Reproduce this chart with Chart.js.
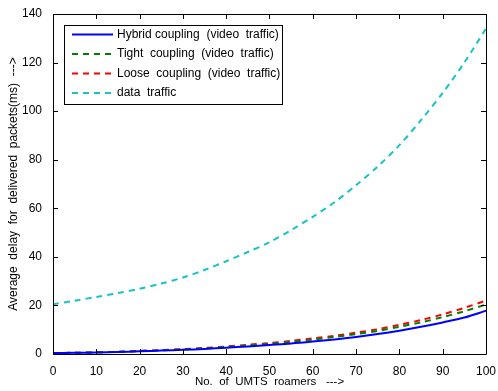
<!DOCTYPE html>
<html>
<head>
<meta charset="utf-8">
<script src="https://cdn.jsdelivr.net/npm/chart.js@4"></script>
<style>
  html, body { margin: 0; padding: 0; background: #fff; }
  #wrap { width: 498px; height: 391px; }
</style>
</head>
<body>
<div id="wrap"><canvas id="delayChart" width="498" height="391"></canvas></div>
<script>
/* data */
const roamers = [0, 5, 10, 15, 20, 25, 30, 35, 40, 45, 50, 55, 60, 65, 70, 75, 80, 85, 90, 95, 100]
const hybridVideo = [0.4, 0.5, 0.6, 0.8, 1.1, 1.4, 1.7, 2.1, 2.6, 3.1, 3.7, 4.3, 5.1, 6.0, 7.0, 8.2, 9.6, 11.2, 13.0, 15.0, 17.8]
const tightVideo = [0.4, 0.5, 0.7, 0.9, 1.2, 1.5, 1.9, 2.3, 2.9, 3.5, 4.2, 5.0, 5.9, 7.0, 8.2, 9.5, 11.2, 13.0, 15.2, 17.6, 20.4]
const looseVideo = [0.4, 0.5, 0.7, 0.9, 1.3, 1.6, 2.0, 2.5, 3.1, 3.8, 4.5, 5.4, 6.4, 7.5, 8.8, 10.2, 12.0, 14.0, 16.3, 19.0, 22.0]
const dataTraffic = [20.5, 21.9, 23.5, 25.1, 26.9, 29.0, 31.5, 34.6, 38.2, 42.0, 46.0, 51.0, 56.5, 62.5, 69.5, 77.2, 86.0, 96.3, 107.5, 120.0, 134.0]
const seriesNames = ['Hybrid coupling  (video  traffic)', 'Tight  coupling  (video  traffic)', 'Loose  coupling  (video  traffic)', 'data  traffic']

const colors = {
    blue: '#0000ff',
    green: '#008000',
    red: '#ff0000',
    cyan: '#19c3c3'
}

const FONT = 'Arial, "Liberation Sans", sans-serif'

function pts(ys) {
    return roamers.map(function(x, i) { return { x: x, y: ys[i] } })
}

/* MATLAB-like frame with inward ticks on all sides */
const framePlugin = {
    id: 'frame',
    afterDraw: function(chart) {
        const ctx = chart.ctx
        const a = chart.chartArea
        const xs = chart.scales.x
        const ys = chart.scales.y
        const len = 5
        ctx.save()
        ctx.strokeStyle = '#000'
        ctx.lineWidth = 1
        ctx.beginPath()
        xs.ticks.forEach(function(t) {
            const px = Math.round(xs.getPixelForValue(t.value)) + 0.5
            ctx.moveTo(px, a.bottom); ctx.lineTo(px, a.bottom - len)
            ctx.moveTo(px, a.top); ctx.lineTo(px, a.top + len)
        })
        ys.ticks.forEach(function(t) {
            const py = Math.round(ys.getPixelForValue(t.value)) + 0.5
            ctx.moveTo(a.left, py); ctx.lineTo(a.left + len, py)
            ctx.moveTo(a.right, py); ctx.lineTo(a.right - len, py)
        })
        ctx.stroke()
        ctx.beginPath()
        ctx.rect(Math.round(a.left) + 0.5, Math.round(a.top) + 0.5, Math.round(a.right - a.left), Math.round(a.bottom - a.top))
        ctx.stroke()
        ctx.restore()
    }
}

/* legend box inside the axes, top left */
const boxLegend = {
    id: 'boxLegend',
    afterDraw: function(chart) {
        const ctx = chart.ctx
        const a = chart.chartArea
        const left = a.left + 11, top = a.top + 11
        const w = 218, h = 79, rowH = 19.5
        ctx.save()
        ctx.fillStyle = '#fff'
        ctx.fillRect(left, top, w, h)
        ctx.strokeStyle = '#000'
        ctx.lineWidth = 1
        ctx.strokeRect(left + 0.5, top + 0.5, w, h)
        ctx.font = '12px ' + FONT
        ctx.textBaseline = 'middle'
        chart.data.datasets.forEach(function(ds, i) {
            const y = top + 9.5 + i * rowH
            ctx.strokeStyle = ds.borderColor
            ctx.lineWidth = 2
            ctx.setLineDash(ds.borderDash || [])
            ctx.beginPath()
            ctx.moveTo(left + 8, y); ctx.lineTo(left + 49, y)
            ctx.stroke()
            ctx.setLineDash([])
            ctx.fillStyle = '#000'
            ctx.fillText(ds.label, left + 53, y)
        })
        ctx.restore()
    }
}

const ctx = document.getElementById('delayChart').getContext('2d')
const myChart = new Chart(ctx, {
    type: 'line',
    data: {
        datasets: [
        {
            label: seriesNames[0],
            data: pts(hybridVideo),
            borderColor: colors.blue,
            borderWidth: 2
        },
        {
            label: seriesNames[1],
            data: pts(tightVideo),
            borderColor: colors.green,
            borderWidth: 2,
            borderDash: [6, 5]
        },
        {
            label: seriesNames[2],
            data: pts(looseVideo),
            borderColor: colors.red,
            borderWidth: 2,
            borderDash: [6, 5]
        },
        {
            label: seriesNames[3],
            data: pts(dataTraffic),
            borderColor: colors.cyan,
            borderWidth: 2,
            borderDash: [6, 5]
        }]
    },
    options: {
        responsive: false,
        animation: false,
        events: [],
        layout: { padding: { top: 14, right: 11, left: 0, bottom: 0 } },
        elements: { point: { radius: 0 }, line: { tension: 0.3 } },
        plugins: { legend: { display: false }, tooltip: { enabled: false } },
        scales: {
            x: {
                type: 'linear',
                min: 0, max: 100,
                grid: { display: false },
                border: { display: false },
                ticks: { stepSize: 10, color: '#000', padding: 2, maxRotation: 0, font: { family: FONT, size: 12 } },
                title: { display: true, text: 'No.  of  UMTS  roamers   --->', color: '#000', padding: { top: 1, bottom: 2 }, font: { family: FONT, size: 11.5 } },
                afterFit: function(s) { s.height = 37 }
            },
            y: {
                min: 0, max: 140,
                grid: { display: false },
                border: { display: false },
                ticks: { stepSize: 20, color: '#000', padding: 3, font: { family: FONT, size: 12 } },
                title: { display: true, text: 'Average  delay  for  delivered  packets(ms)  --->', color: '#000', padding: { top: 6, bottom: 2 }, font: { family: FONT, size: 12 } },
                afterFit: function(s) { s.width = 53 }
            }
        }
    },
    plugins: [framePlugin, boxLegend]
})
</script>
</body>
</html>
